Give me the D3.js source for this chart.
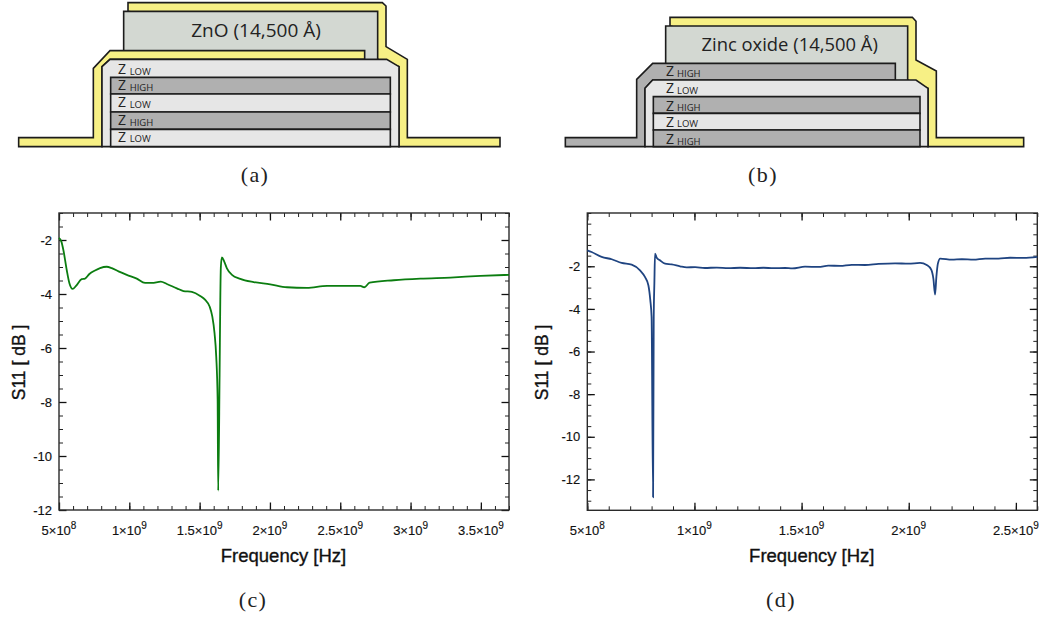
<!DOCTYPE html>
<html>
<head>
<meta charset="utf-8">
<style>
  html, body { margin: 0; padding: 0; background: #fff; }
  svg { display: block; }
</style>
<script src="https://cdn.jsdelivr.net/npm/d3@7"></script>
</head>
<body>
<div id="chart-area"></div>
<script>
// panel (c), frequency in GHz, S11 in dB
const freqC = [0.5, 0.517, 0.531, 0.555, 0.574, 0.597, 0.621, 0.661, 0.685, 0.716, 0.756, 0.792, 0.839, 0.875, 0.923, 0.982,
  1.053, 1.112, 1.16, 1.224, 1.267, 1.338, 1.385, 1.445, 1.504, 1.54, 1.571, 1.59, 1.606, 1.618, 1.628, 1.632,
  1.642, 1.647, 1.651, 1.658, 1.675, 1.694, 1.73, 1.789, 1.884, 2.002, 2.121, 2.263, 2.406, 2.643, 2.671, 2.709,
  2.88, 3.07, 3.284, 3.497, 3.7];
const s11C = [-1.92, -2.06, -2.37, -3.11, -3.6, -3.81, -3.7, -3.45, -3.43, -3.26, -3.13, -3.04, -2.99, -3.04, -3.16, -3.29,
  -3.43, -3.59, -3.59, -3.54, -3.63, -3.79, -3.89, -3.92, -4.07, -4.22, -4.46, -4.83, -5.45, -6.31, -7.9, -11.28,
  -7, -4.2, -3, -2.64, -2.8, -3.05, -3.29, -3.44, -3.56, -3.64, -3.75, -3.77, -3.7, -3.7, -3.75, -3.58,
  -3.49, -3.43, -3.39, -3.33, -3.29];

// panel (d)
const freqD = [0.5, 0.52, 0.567, 0.614, 0.66, 0.707, 0.746, 0.769, 0.785, 0.794, 0.8, 0.807, 0.81, 0.813, 0.816, 0.824,
  0.839, 0.863, 0.894, 0.933, 0.964, 1.003, 1.049, 1.104, 1.158, 1.213, 1.275, 1.322, 1.368, 1.423, 1.457, 1.516,
  1.579, 1.625, 1.68, 1.734, 1.796, 1.859, 1.936, 1.999, 2.053, 2.084, 2.105, 2.115, 2.123, 2.129, 2.136, 2.147,
  2.201, 2.248, 2.302, 2.357, 2.419, 2.473, 2.536, 2.6];
const s11D = [-1.25, -1.33, -1.56, -1.67, -1.84, -1.92, -2.19, -2.5, -2.89, -3.59, -4.38, -12.84, -4.4, -2.8, -1.41, -1.6,
  -1.72, -1.88, -1.91, -2, -2.05, -2.04, -2.08, -2.06, -2.09, -2.07, -2.09, -2.07, -2.09, -2.08, -2.1, -2.02,
  -2.03, -1.97, -1.98, -1.93, -1.94, -1.89, -1.86, -1.88, -1.84, -1.94, -2.16, -2.58, -3.33, -2.5, -1.875, -1.64,
  -1.69, -1.67, -1.69, -1.64, -1.64, -1.6, -1.61, -1.56];

const xTicksC = [0.5, 1, 1.5, 2, 2.5, 3, 3.5];
const xLabelsC = ['5', '1', '1.5', '2', '2.5', '3', '3.5'];
const xExpC = ['8', '9', '9', '9', '9', '9', '9'];
const yTicksC = [-12, -10, -8, -6, -4, -2];

const xTicksD = [0.5, 1, 1.5, 2, 2.5];
const xLabelsD = ['5', '1', '1.5', '2', '2.5'];
const xExpD = ['8', '9', '9', '9', '9'];
const yTicksD = [-12, -10, -8, -6, -4, -2];

const svg = d3.select('#chart-area')
  .append('svg')
  .attr('width', 1044)
  .attr('height', 620);

const SANS = '"Liberation Sans", Arial, sans-serif';
const SERIF = '"Liberation Serif", serif';
const HUMAN = '"Open Sans", sans-serif';
const YELLOW = '#f7f085';
const OXIDE = '#d3d8d2';
const HIGH = '#b0b0b0';
const LOW = '#e6e6e6';

// the schematics, in units of a third of a pixel
const outlineA = [
  { fill: YELLOW, pts: [[384, 8], [1147, 8], [1158, 18], [1158, 140], [1222, 178], [1222, 413], [1500, 413], [1500, 440], [1197, 440], [1197, 200], [1133, 178], [384, 34]] },
  { fill: OXIDE, pts: [[371, 34], [1133, 34], [1133, 180], [371, 180]] },
  { fill: YELLOW, pts: [[56, 413], [280, 413], [280, 205], [330, 152], [1094, 152], [1094, 178], [330, 178], [306, 200], [306, 440], [56, 440]] },
  { fill: LOW, pts: [[306, 200], [330, 178], [1160, 178], [1197, 200], [1197, 440], [306, 440]] },
  { fill: HIGH, pts: [[332, 232], [1171, 232], [1171, 282], [332, 282]] },
  { fill: LOW, pts: [[332, 282], [1171, 282], [1171, 336], [332, 336]] },
  { fill: HIGH, pts: [[332, 336], [1171, 336], [1171, 388], [332, 388]] },
  { fill: LOW, pts: [[332, 388], [1171, 388], [1171, 440], [332, 440]] },
];
const labelsA = [
  { base: 222, sub: 'LOW' }, { base: 270, sub: 'HIGH' }, { base: 321, sub: 'LOW' }, { base: 375, sub: 'HIGH' }, { base: 425, sub: 'LOW' },
];

const outlineB = [
  { fill: YELLOW, pts: [[420, 52], [1147, 52], [1158, 64], [1158, 180], [1219, 213], [1219, 413], [1481, 413], [1481, 440], [1194, 440], [1194, 265], [1133, 240], [420, 78]] },
  { fill: OXIDE, pts: [[407, 78], [1133, 78], [1133, 242], [407, 242]] },
  { fill: HIGH, pts: [[106, 413], [320, 413], [320, 238], [368, 190], [1096, 190], [1096, 240], [368, 240], [345, 265], [345, 440], [106, 440]] },
  { fill: LOW, pts: [[345, 265], [368, 240], [1158, 240], [1194, 265], [1194, 440], [345, 440]] },
  { fill: HIGH, pts: [[370, 290], [1170, 290], [1170, 340], [370, 340]] },
  { fill: LOW, pts: [[370, 340], [1170, 340], [1170, 390], [370, 390]] },
  { fill: HIGH, pts: [[370, 390], [1170, 390], [1170, 440], [370, 440]] },
];
const labelsB = [
  { base: 228, sub: 'HIGH' }, { base: 280, sub: 'LOW' }, { base: 332, sub: 'HIGH' }, { base: 380, sub: 'LOW' }, { base: 432, sub: 'HIGH' },
];

const drawStack = (offsetX, outline, labels, zx, subX, title, titleX, titleBase, titleSize) => {
  const sx = d3.scaleLinear().domain([0, 3]).range([offsetX, offsetX + 1]);
  const sy = d3.scaleLinear().domain([0, 3]).range([0, 1]);
  const line = d3.line().x((d) => sx(d[0])).y((d) => sy(d[1]));
  const g = svg.append('g');

  g.selectAll('path')
    .data(outline)
    .enter()
    .append('path')
    .attr('d', (d) => line(d.pts) + 'Z')
    .attr('fill', (d) => d.fill)
    .attr('stroke', '#1c1c1c')
    .attr('stroke-width', 1.6)
    .attr('stroke-linejoin', 'miter');

  g.append('text')
    .attr('x', sx(titleX))
    .attr('y', sy(titleBase))
    .attr('text-anchor', 'middle')
    .attr('font-family', HUMAN)
    .attr('font-size', titleSize)
    .attr('fill', '#222')
    .text(title);

  const rows = g.selectAll('.row')
    .data(labels)
    .enter()
    .append('g')
    .attr('class', 'row')
    .attr('font-family', HUMAN)
    .attr('fill', '#222');
  rows.append('text')
    .attr('x', sx(zx))
    .attr('y', (d) => sy(d.base))
    .attr('font-size', 14)
    .text('Z');
  rows.append('text')
    .attr('x', sx(subX))
    .attr('y', (d) => sy(d.base) + 0.5)
    .attr('font-size', 9.5)
    .text((d) => d.sub);
};

const drawChart = (opts) => {
  const { left, right, top, bottom, xDomain, yDomain, freq, s11, color } = opts;
  const x = d3.scaleLinear().domain(xDomain).range([left, right]);
  const y = d3.scaleLinear().domain(yDomain).range([bottom, top]);
  const xMinor = d3.range(xDomain[0], xDomain[1] + 0.001, 0.1);
  const yMinor = d3.range(-12, yDomain[1] + 0.001, 0.5).concat(opts.yExtra || []);
  const g = svg.append('g').style('font-family', SANS);

  const axes = [
    [d3.axisBottom(x), bottom, 0, xMinor, opts.xTicks],
    [d3.axisTop(x), top, 0, xMinor, opts.xTicks],
    [d3.axisLeft(y), 0, left, yMinor, opts.yTicks],
    [d3.axisRight(y), 0, right, yMinor, opts.yTicks],
  ];
  axes.forEach(([make, ty, tx, minor, major]) => {
    g.append('g')
      .attr('transform', `translate(${tx},${ty})`)
      .call(make.tickValues(minor).tickSize(-4).tickSizeOuter(0).tickFormat(''))
      .call((a) => a.select('.domain').remove())
      .call((a) => a.selectAll('line').attr('stroke', '#222').attr('stroke-width', 1));
    g.append('g')
      .attr('transform', `translate(${tx},${ty})`)
      .call(make.tickValues(major).tickSize(-7.5).tickSizeOuter(0).tickFormat(''))
      .call((a) => a.select('.domain').remove())
      .call((a) => a.selectAll('line').attr('stroke', '#111').attr('stroke-width', 1.3));
  });

  g.append('rect')
    .attr('x', left)
    .attr('y', top)
    .attr('width', right - left)
    .attr('height', bottom - top)
    .attr('fill', 'none')
    .attr('stroke', '#2a2a2a')
    .attr('stroke-width', 1.4);

  g.append('path')
    .datum(freq.map((f, i) => [f, s11[i]]))
    .attr('fill', 'none')
    .attr('stroke', color)
    .attr('stroke-width', 1.8)
    .attr('stroke-linejoin', 'round')
    .attr('d', d3.line().x((d) => x(d[0])).y((d) => y(d[1])).curve(d3.curveMonotoneX));

  g.selectAll('.ylabel')
    .data(opts.yTicks)
    .enter()
    .append('text')
    .attr('class', 'ylabel')
    .attr('x', left - 7)
    .attr('y', (d) => y(d))
    .attr('dy', '0.36em')
    .attr('text-anchor', 'end')
    .attr('font-size', 13)
    .attr('fill', '#111')
    .attr('stroke', '#111')
    .attr('stroke-width', 0.15)
    .text((d) => d);

  const xl = g.selectAll('.xlabel')
    .data(opts.xTicks)
    .enter()
    .append('text')
    .attr('class', 'xlabel')
    .attr('x', (d) => x(d))
    .attr('y', bottom + 24.5)
    .attr('text-anchor', 'middle')
    .attr('font-size', 13)
    .attr('fill', '#111')
    .attr('stroke', '#111')
    .attr('stroke-width', 0.15);
  xl.append('tspan').text((d, i) => opts.xLabels[i] + '×10');
  xl.append('tspan')
    .attr('dy', -6)
    .attr('font-size', 10)
    .text((d, i) => opts.xExp[i]);

  g.append('text')
    .attr('x', (left + right) / 2 - 0.5)
    .attr('y', 561.5)
    .attr('text-anchor', 'middle')
    .attr('font-size', 18.5)
    .attr('fill', '#111')
    .attr('stroke', '#111')
    .attr('stroke-width', 0.35)
    .text('Frequency [Hz]');

  g.append('text')
    .attr('transform', `translate(${opts.labelX},362.5) rotate(-90)`)
    .attr('text-anchor', 'middle')
    .attr('font-size', 17.5)
    .attr('fill', '#111')
    .attr('stroke', '#111')
    .attr('stroke-width', 0.35)
    .text('S11 [ dB ]');
};

const caption = (cx, base, label) => {
  svg.append('text')
    .attr('x', cx)
    .attr('y', base)
    .attr('text-anchor', 'middle')
    .attr('font-family', SERIF)
    .attr('font-size', 22)
    .attr('letter-spacing', 1.4)
    .attr('fill', '#222')
    .text(label);
};

drawStack(0, outlineA, labelsA, 354, 389, 'ZnO (14,500 Å)', 768, 110, 19);
drawStack(530, outlineB, labelsB, 408, 441, 'Zinc oxide (14,500 Å)', 779, 153, 18.4);

drawChart({
  left: 59, right: 509, top: 213, bottom: 510, labelX: 25,
  xDomain: [0.5, 3.7], yDomain: [-12, -1],
  freq: freqC, s11: s11C, color: '#0b7d10',
  xTicks: xTicksC, xLabels: xLabelsC, xExp: xExpC, yTicks: yTicksC,
});
drawChart({
  left: 587.3, right: 1037.3, top: 213, bottom: 510.3, labelX: 548,
  xDomain: [0.5, 2.6], yDomain: [-13.45, 0.5],
  freq: freqD, s11: s11D, color: '#1f4481',
  xTicks: xTicksD, xLabels: xLabelsD, xExp: xExpD, yTicks: yTicksD,
  yExtra: [-12.5, -13],
});

caption(255, 182, '(a)');
caption(763, 182, '(b)');
caption(253, 607, '(c)');
caption(781, 607, '(d)');
</script>
</body>
</html>
